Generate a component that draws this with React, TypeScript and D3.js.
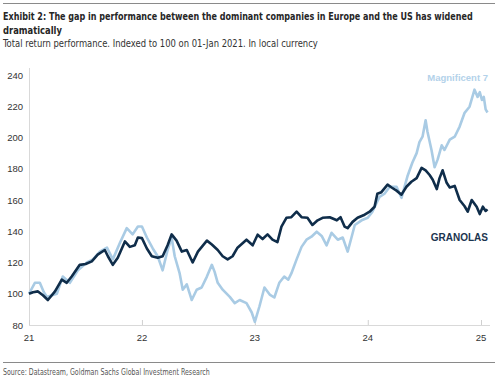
import React, { useLayoutEffect, useRef } from "react";
import * as d3 from "d3";

const yTicks = [80, 100, 120, 140, 160, 180, 200, 220, 240];
const xTickLabels = ["21", "22", "23", "24", "25"];

const granolasDates = [
  "2021-01-01","2021-01-14","2021-01-30","2021-02-15","2021-03-03","2021-03-26","2021-04-17","2021-05-03","2021-05-19","2021-06-14",
  "2021-07-03","2021-07-23","2021-08-11","2021-09-03","2021-09-13","2021-09-29","2021-10-15","2021-11-07","2021-11-23","2021-12-09",
  "2021-12-19","2022-01-01","2022-01-17","2022-02-02","2022-02-21","2022-03-09","2022-03-25","2022-04-07","2022-04-23","2022-05-10",
  "2022-05-26","2022-06-14","2022-07-01","2022-07-30","2022-08-15","2022-09-03","2022-09-19","2022-10-05","2022-10-21","2022-11-06",
  "2022-12-05","2022-12-25","2023-01-10","2023-01-26","2023-02-11","2023-02-27","2023-03-15","2023-03-28","2023-04-13","2023-04-29",
  "2023-05-16","2023-06-01","2023-06-20","2023-07-06","2023-07-23","2023-08-08","2023-08-31","2023-09-23","2023-10-05","2023-10-18",
  "2023-10-28","2023-11-13","2023-11-29","2023-12-22","2024-01-07","2024-01-23","2024-02-01","2024-02-14","2024-03-05","2024-03-18",
  "2024-04-03","2024-04-19","2024-05-05","2024-05-21","2024-06-07","2024-06-23","2024-07-06","2024-07-19","2024-07-29","2024-08-11",
  "2024-08-20","2024-08-30","2024-09-12","2024-09-22","2024-10-08","2024-10-24","2024-11-09","2024-11-19","2024-12-02","2024-12-18",
  "2024-12-28","2025-01-07","2025-01-16","2025-01-22"
];
const granolasValues = [
  100, 101, 101.5, 99, 96, 101.5, 109, 107, 111, 118.5,
  119, 120.7, 125, 128, 124, 118.5, 123, 133.5, 130, 131,
  136, 135.6, 129, 124, 123, 124, 131, 138, 134, 127,
  128, 120, 127, 134, 131.5, 128, 124, 122, 124, 129.5,
  134.6, 131, 137.8, 135, 138, 134.6, 133, 143, 148.6, 149,
  152.5, 149, 148.6, 144, 147, 148.6, 149, 147, 149, 143,
  142, 146, 148.6, 150.6, 152.5, 155.7, 164, 165, 169.8, 168,
  166, 163.4, 168.5, 171.7, 174, 180.6, 179, 176, 173, 167,
  174, 179, 171, 168, 169, 160, 156, 152.5, 160, 155.7,
  151, 155.7, 153, 154
];

const m7Dates = [
  "2021-01-01","2021-01-20","2021-02-05","2021-02-18","2021-02-28","2021-03-16","2021-04-01","2021-04-20","2021-05-13","2021-06-08",
  "2021-07-07","2021-07-27","2021-08-18","2021-09-10","2021-09-29","2021-10-22","2021-11-13","2021-12-02","2021-12-19","2022-01-01",
  "2022-01-17","2022-02-05","2022-02-21","2022-03-09","2022-03-25","2022-04-07","2022-04-17","2022-05-03","2022-05-13","2022-05-26",
  "2022-06-11","2022-06-27","2022-07-13","2022-07-30","2022-08-15","2022-08-24","2022-09-03","2022-09-19","2022-10-12","2022-10-28",
  "2022-11-13","2022-12-05","2022-12-22","2023-01-01","2023-01-16","2023-02-01","2023-02-18","2023-03-05","2023-03-21","2023-04-06",
  "2023-04-19","2023-04-29","2023-05-16","2023-06-01","2023-06-17","2023-07-03","2023-07-20","2023-08-05","2023-08-21","2023-09-06",
  "2023-09-26","2023-10-12","2023-10-28","2023-11-10","2023-11-20","2023-12-12","2024-01-01","2024-01-16","2024-01-29","2024-02-08",
  "2024-02-24","2024-03-12","2024-04-03","2024-04-19","2024-05-08","2024-05-24","2024-06-07","2024-06-16","2024-06-26","2024-07-06",
  "2024-07-12","2024-07-25","2024-08-04","2024-08-14","2024-08-27","2024-09-05","2024-09-22","2024-10-08","2024-10-24","2024-11-09",
  "2024-11-25","2024-12-11","2024-12-21","2024-12-28","2025-01-04","2025-01-10","2025-01-16","2025-01-22"
];
const m7Values = [
  100, 107, 107, 101, 98, 99, 100, 111, 107, 115,
  120, 122, 127, 129.5, 122, 132.6, 142, 138, 143, 143,
  136, 129, 124, 115, 128, 136, 124, 113, 102.6, 106,
  96, 102.6, 104, 111, 118.5, 114, 107, 102.6, 98, 94,
  96, 94, 88, 82, 92, 104, 99.5, 97.6, 107, 111,
  109, 113, 122, 130, 134.6, 136.5, 139.7, 137, 131, 139,
  134.6, 136, 127, 136.5, 144, 147, 148.6, 152.5, 158, 162,
  164, 168.5, 168.5, 161.4, 175, 183.8, 190, 197, 200.5, 211,
  203.7, 192, 181, 186, 195, 192, 198.6, 200.5, 207, 215.8,
  219.7, 230.6, 226, 229, 224, 226, 218, 216
];

const parse = d3.timeParse("%Y-%m-%d");
const granolas = granolasDates.map((d, i) => ({ date: parse(d) as Date, value: granolasValues[i] }));
const m7 = m7Dates.map((d, i) => ({ date: parse(d) as Date, value: m7Values[i] }));
const xTickDates = xTickLabels.map((l) => new Date(2000 + +l, 0, 1));

const NARROW = "'Liberation Sans Narrow', 'DejaVu Sans Condensed', 'Arial Narrow', sans-serif";
const SANS = "'Liberation Sans', Arial, sans-serif";

function FitText(props: {
  x: number; y: number; width: number; size: number; weight?: string; fill: string; family: string; children: string;
}) {
  const ref = useRef<SVGTextElement>(null);
  useLayoutEffect(() => {
    const el = ref.current;
    if (!el) return;
    el.removeAttribute("transform");
    const w = el.getComputedTextLength();
    const s = w > 0 ? props.width / w : 1;
    el.setAttribute("transform", `translate(${props.x},${props.y}) scale(${s},1)`);
  });
  return (
    <text ref={ref} x={0} y={0} transform={`translate(${props.x},${props.y})`} fontFamily={props.family}
      fontWeight={props.weight || "normal"} fontSize={props.size} fill={props.fill}>
      {props.children}
    </text>
  );
}

export default function App() {
  const W = 500, H = 379;
  const x = d3.scaleTime().domain([new Date(2021, 0, 1), new Date(2025, 0, 1)]).range([29, 481]);
  const y = d3.scaleLinear().domain([80, 240]).range([325, 75]);
  const line = d3.line<{ date: Date; value: number }>()
    .x((d) => x(d.date))
    .y((d) => y(d.value))
    .curve(d3.curveLinear);

  return (
    <svg width={W} height={H} style={{ position: "absolute", left: 0, top: 0, background: "#fff" }}>
      <line x1={3} x2={495} y1={3.5} y2={3.5} stroke="#8a8a8a" strokeWidth={1} />
      <FitText x={3} y={20} width={470} size={11} weight="bold" fill="#262626" family={NARROW}>
        Exhibit 2: The gap in performance between the dominant companies in Europe and the US has widened
      </FitText>
      <FitText x={3} y={34} width={59} size={11} weight="bold" fill="#262626" family={NARROW}>
        dramatically
      </FitText>
      <FitText x={3} y={47} width={315} size={10.5} fill="#333" family={NARROW}>
        Total return performance. Indexed to 100 on 01-Jan 2021. In local currency
      </FitText>

      {/* axes */}
      <line x1={29.5} x2={29.5} y1={68} y2={325} stroke="#d9d9d9" strokeWidth={1} />
      <line x1={29} x2={490} y1={325.5} y2={325.5} stroke="#d9d9d9" strokeWidth={1} />
      {xTickDates.map((d, i) => (
        <line key={"xt" + i} x1={x(d) + 0.5} x2={x(d) + 0.5} y1={320} y2={325} stroke="#d0d0d0" strokeWidth={1} />
      ))}
      {yTicks.map((t) => (
        <text key={"yt" + t} x={23} y={y(t) + 3.5} textAnchor="end" fontFamily={SANS} fontSize={9.5} fill="#333">
          {t}
        </text>
      ))}
      {xTickDates.map((d, i) => (
        <text key={"xl" + i} x={x(d)} y={341} textAnchor="middle" fontFamily={SANS} fontSize={9.5} fill="#333">
          {xTickLabels[i]}
        </text>
      ))}

      {/* series */}
      <path d={line(m7) || ""} fill="none" stroke="#a9cbe4" strokeWidth={2.6} strokeLinejoin="round" />
      <path d={line(granolas) || ""} fill="none" stroke="#0f2d4a" strokeWidth={2.6} strokeLinejoin="round" />

      <text x={488} y={81} textAnchor="end" fontFamily={SANS} fontWeight="bold" fontSize={9.5} fill="#b3d2ea">
        Magnificent 7
      </text>
      <text x={488} y={241} textAnchor="end" fontFamily={SANS} fontWeight="bold" fontSize={10} fill="#1b3550">
        GRANOLAS
      </text>

      <line x1={3} x2={495} y1={362.5} y2={362.5} stroke="#8a8a8a" strokeWidth={1} />
      <FitText x={3} y={375} width={207} size={9.5} fill="#555" family={NARROW}>
        Source: Datastream, Goldman Sachs Global Investment Research
      </FitText>
    </svg>
  );
}
